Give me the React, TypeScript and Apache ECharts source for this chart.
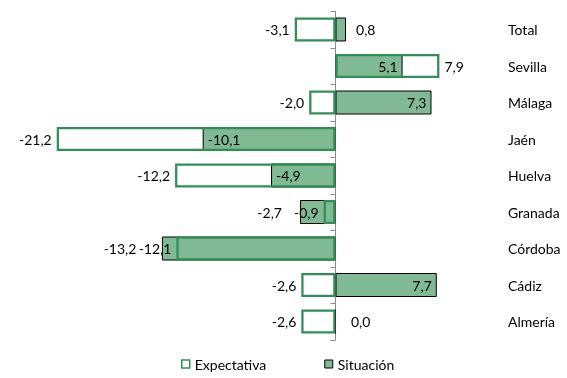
import React, { useEffect, useRef } from "react";
import * as echarts from "echarts";

const categories = ["Total", "Sevilla", "Málaga", "Jaén", "Huelva", "Granada", "Córdoba", "Cádiz", "Almería"];
const expectativa = [-3.1, 7.9, -2.0, -21.2, -12.2, -0.9, -12.1, -2.6, -2.6];
const situacion = [0.8, 5.1, 7.3, -10.1, -4.9, -2.7, -13.2, 7.7, 0.0];

const FONT = "Lato";
const GREEN_FILL = "#80ba94";
const GREEN_LINE = "#2f8f57";
const PX_PER_UNIT = 460.25 / 35;

const fmt = (v: number) => v.toFixed(1).replace(".", ",");

function situacionLabel(s: number, e: number) {
  const neg = s < 0;
  if (Math.sign(s) === Math.sign(e) && Math.abs(s) > Math.abs(e)) {
    // keep clear of the other series' outside label
    const d = Math.max(18, (Math.abs(e) - Math.abs(s)) * PX_PER_UNIT + 40);
    return { position: neg ? "left" : "right", distance: d };
  }
  if (Math.abs(s) < 1.5) {
    return { position: neg ? "left" : "right", distance: s === 0 ? 15 : 10 };
  }
  return { position: neg ? "insideLeft" : "insideRight", distance: 5 };
}

export default function App() {
  const ref = useRef<HTMLDivElement>(null);
  useEffect(() => {
    if (!ref.current) return;
    const chart = echarts.init(ref.current, undefined, { renderer: "svg" });
    const labelBase = { show: true, color: "#000", fontSize: 14, fontFamily: FONT, formatter: (p: any) => fmt(p.value) };
    chart.setOption({
      animation: false,
      textStyle: { fontFamily: FONT },
      grid: { left: 6.75, width: 460.25, top: 11.25, height: 328.5, containLabel: false },
      legend: {
        left: 176,
        top: 352,
        itemWidth: 8,
        itemHeight: 8,
        itemGap: 58,
        icon: "rect",
        textStyle: { fontSize: 14, fontFamily: FONT, color: "#000" },
        data: [
          { name: "Expectativa", itemStyle: { color: "#fff", borderColor: GREEN_LINE, borderWidth: 1.5 } },
          { name: "Situación", itemStyle: { color: GREEN_FILL, borderColor: "#000", borderWidth: 1 } },
        ],
      },
      xAxis: {
        type: "value",
        min: -25,
        max: 10,
        show: false,
      },
      yAxis: [
        {
          type: "category",
          data: categories,
          inverse: true,
          axisLine: { show: true, onZero: true, lineStyle: { color: "#8c8c8c", width: 1 } },
          axisTick: { show: true, length: 5, inside: false, lineStyle: { color: "#8c8c8c" } },
          axisLabel: { show: false },
        },
        {
          type: "category",
          data: categories,
          inverse: true,
          position: "right",
          axisLine: { show: false },
          axisTick: { show: false },
          axisLabel: { show: true, margin: 41, color: "#000", fontSize: 14, fontFamily: FONT, align: "left" },
        },
      ],
      series: [
        {
          name: "Situación",
          type: "bar",
          barWidth: 24,
          barGap: "-100%",
          itemStyle: { color: GREEN_FILL, borderColor: "#000", borderWidth: 1 },
          data: situacion.map((v, i) => ({
            value: v,
            label: { ...labelBase, ...situacionLabel(v, expectativa[i]) },
          })),
          z: 2,
        },
        {
          name: "Expectativa",
          type: "bar",
          barWidth: 24,
          barGap: "-100%",
          itemStyle: { color: "rgba(255,255,255,0)", borderColor: GREEN_LINE, borderWidth: 2.25 },
          data: expectativa.map((v) => ({
            value: v,
            label: { ...labelBase, position: v < 0 ? "left" : "right", distance: 5 },
          })),
          z: 3,
        },
      ],
    });
    return () => chart.dispose();
  }, []);
  return <div ref={ref} style={{ position: "fixed", left: 0, top: 0, width: 567, height: 378 }} />;
}
